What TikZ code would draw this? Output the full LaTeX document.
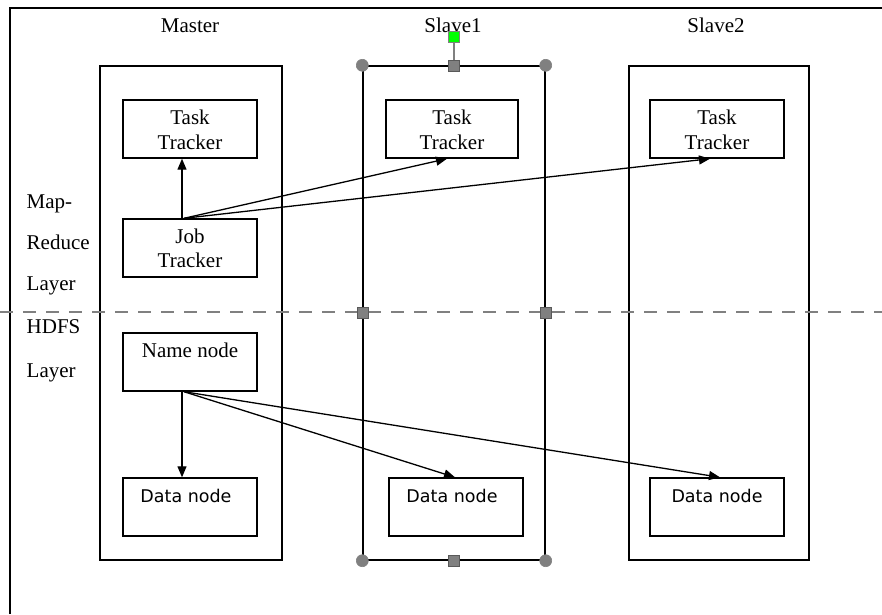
\documentclass[tikz,border=0pt]{standalone}
\usepackage{fontspec}
\setmainfont{Liberation Serif}
\newfontfamily\dnfont{DejaVu Sans}
\usetikzlibrary{arrows.meta}
\begin{document}
\begin{tikzpicture}[x=1pt,y=-1pt,
  line width=1.4pt,
  serif/.style={font=\fontsize{21}{25}\selectfont, inner sep=0pt, anchor=base},
  sans/.style={font=\dnfont\fontsize{17.5}{20}\selectfont, inner sep=0pt, anchor=base},
  colbox/.style={draw, minimum width=182pt, minimum height=494pt, inner sep=0pt},
  inbox/.style={draw, minimum width=134pt, minimum height=58pt, inner sep=0pt},
  arr/.style={-{Triangle[length=11pt,width=9pt]}, line width=1.3pt},
  handlec/.style={circle, fill=gray, draw=gray, minimum size=12pt, inner sep=0pt, line width=0.6pt},
  handles/.style={rectangle, fill=gray, draw=gray!70!black, minimum size=11pt, inner sep=0pt, line width=0.6pt},
]
\useasboundingbox (0,0) rectangle (882,614);
% frame
\coordinate (fa) at (10,614);
\coordinate (fb) at (10,8);
\coordinate (fc) at (882,8);
\draw (fa) -- (fb) -- (fc);

% column boxes
\node[colbox] (mcol) at (191,313) {};
\node[colbox] (s1col) at (454,313) {};
\node[colbox, minimum width=180pt] (s2col) at (719,313) {};

% titles
\node[serif] (tm) at (190,32) {Master};
\node[serif] (ts1) at (453,32) {Slave1};
\node[serif] (ts2) at (716,32) {Slave2};

% layer labels
\node[serif, anchor=base west] (l1) at (26,208) {Map-};
\node[serif, anchor=base west] (l2) at (26,249) {Reduce};
\node[serif, anchor=base west] (l3) at (26,290) {Layer};
\node[serif, anchor=base west] (l4) at (26,333) {HDFS};
\node[serif, anchor=base west] (l5) at (26,377) {Layer};

% inner boxes
\node[inbox] (ttm) at (190,129) {};
\node[inbox] (jt) at (190,248) {};
\node[inbox] (nn) at (190,362) {};
\node[inbox] (dnm) at (190,507) {};
\node[inbox, minimum width=132pt] (tt1) at (452,129) {};
\node[inbox] (dn1) at (456,507) {};
\node[inbox] (tt2) at (717,129) {};
\node[inbox] (dn2) at (717,507) {};

% inner texts
\node[serif] (ttma) at (190,124) {Task};
\node[serif] (ttmb) at (190,149) {Tracker};
\node[serif] (jta) at (190,243) {Job};
\node[serif] (jtb) at (190,267) {Tracker};
\node[serif] (nna) at (190,357) {Name node};
\node[sans] (dnma) at (186,502) {Data node};
\node[serif] (tt1a) at (452,124) {Task};
\node[serif] (tt1b) at (452,149) {Tracker};
\node[sans] (dn1a) at (452,502) {Data node};
\node[serif] (tt2a) at (717,124) {Task};
\node[serif] (tt2b) at (717,149) {Tracker};
\node[sans] (dn2a) at (717,502) {Data node};

% dashed layer line
\coordinate (da) at (0,312);
\coordinate (db) at (882,312);
\draw[gray, line width=2pt, dash pattern=on 13pt off 10pt] (da) -- (db);

% arrows
\draw[arr] ([xshift=-8pt]jt.north) -- ([xshift=-8pt]ttm.south);
\draw[arr] ([xshift=-6pt]jt.north) -- ([xshift=-5pt]tt1.south);
\draw[arr] ([xshift=-6pt]jt.north) -- ([xshift=-7pt]tt2.south);
\draw[arr] ([xshift=-8pt]nn.south) -- ([xshift=-8pt]dnm.north);
\draw[arr] ([xshift=-6pt]nn.south) -- ([xshift=-1pt]dn1.north);
\draw[arr] ([xshift=-6pt]nn.south) -- ([xshift=3pt]dn2.north);

% selection handles on Slave1
\node[handles, fill=green, draw=gray] (hg) at (454,37) {};
\node[handles] (ht) at (s1col.north) {};
\draw[gray, line width=1.2pt] (hg) -- (ht);
\node[handlec] (h1) at (s1col.north west) {};
\node[handlec] (h2) at (s1col.north east) {};
\node[handlec] (h3) at (s1col.south west) {};
\node[handlec] (h4) at (s1col.south east) {};
\node[handles] (h5) at (s1col.west) {};
\node[handles] (h6) at (s1col.east) {};
\node[handles] (h7) at (s1col.south) {};
\end{tikzpicture}
\end{document}
